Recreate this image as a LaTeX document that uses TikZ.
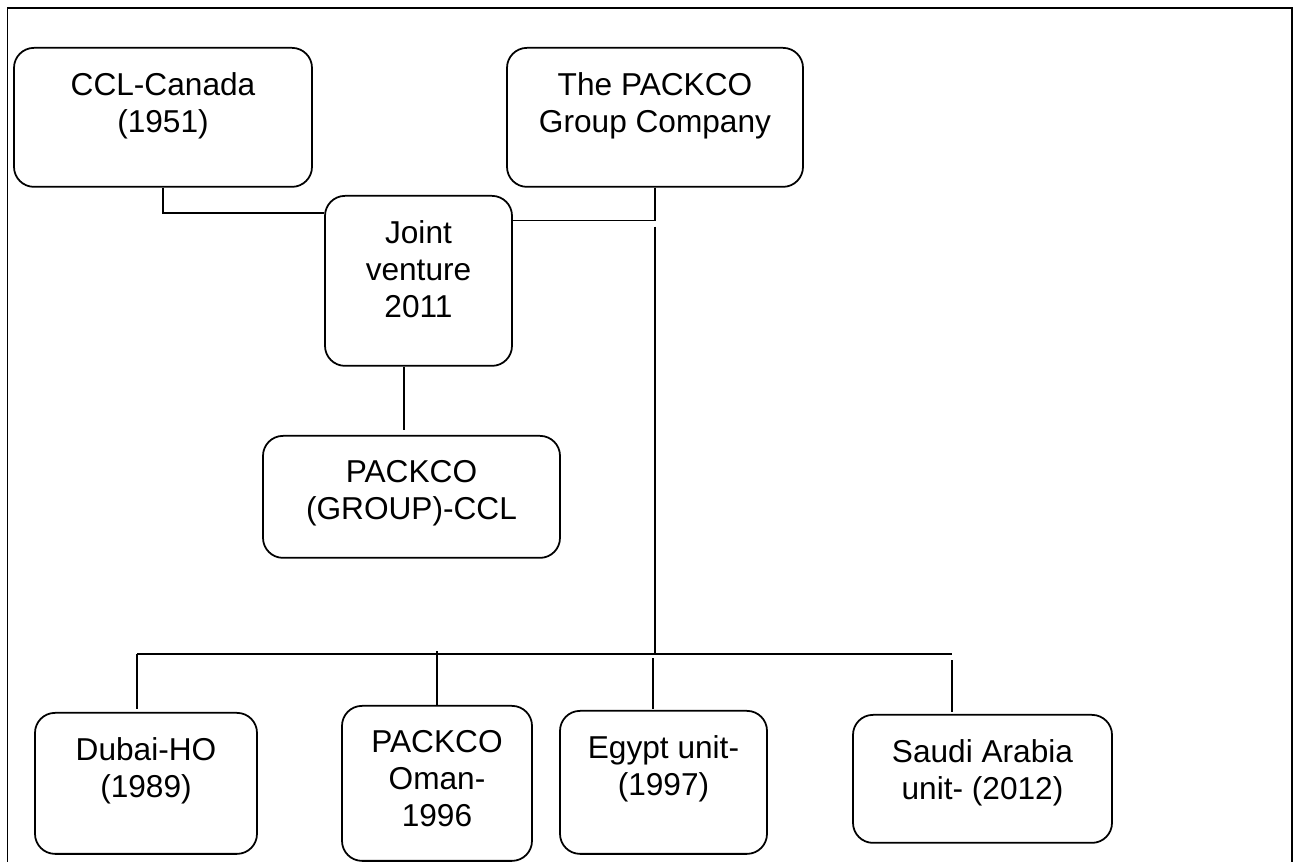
\documentclass[tikz,border=0pt]{standalone}
\usepackage{fontspec}
\setmainfont{Liberation Sans}
\usetikzlibrary{calc}

% text block of a unit box: width, height, lines
\newcommand{\boxtext}[3]{\parbox[c][#2][t]{#1}{\centering\vspace*{0.5cm}#3}}

\tikzset{
    unit/.style={draw, line width=1pt, rounded corners=0.4cm, inner sep=0pt,
        anchor=north, font=\fontsize{18}{21}\selectfont},
    link/.style={line width=0.8pt},
    bus/.style={line width=1.3pt}
}

\begin{document}
\begin{tikzpicture}

\useasboundingbox (0,0) rectangle (26,17.24);
% Outer frame (open at the bottom)
\draw[line width=1.1pt] (0.15,0) -- (0.15,17.08) -- (25.84,17.08) -- (25.84,0);

% Parent companies
\node (ccl) at (3.26,16.30) [unit] {\boxtext{5.96cm}{2.78cm}{CCL-Canada\\(1951)}};
\node (pk) at (13.10,16.30) [unit] {\boxtext{5.92cm}{2.78cm}{The PACKCO\\Group Company}};

% Joint venture
\node (jv) at (8.37,13.34) [unit] {\boxtext{3.74cm}{3.40cm}{Joint\\venture\\2011}};
\node (pg) at (8.23,8.54) [unit] {\boxtext{5.94cm}{2.44cm}{PACKCO\\(GROUP)-CCL}};

\draw[link] (ccl.south) |- ([yshift=-0.36cm]jv.north west);
\draw[link] (pk.south) |- ([yshift=-0.51cm]jv.north east);
\draw[link] ([xshift=-0.29cm]jv.south) -- ([xshift=-0.15cm,yshift=0.1cm]pg.north);

% Units
\node (dubai) at (2.92,3.00) [unit] {\boxtext{4.44cm}{2.82cm}{Dubai-HO\\(1989)}};
\node (oman) at (8.74,3.14) [unit] {\boxtext{3.80cm}{3.10cm}{PACKCO\\Oman-\\1996}};
\node (egypt) at (13.27,3.04) [unit] {\boxtext{4.14cm}{2.86cm}{Egypt unit-\\(1997)}};
\node (saudi) at (19.65,2.96) [unit] {\boxtext{5.18cm}{2.56cm}{Saudi Arabia\\unit- (2012)}};

% Trunk and bus
\coordinate (bar) at (13.10,4.16);
\draw[link] ($(pk.south)+(0,-0.78)$) -- (pk.south |- bar);
\draw[bus] ($(dubai.north |- bar)+(-0.18,0)$) -- ($(saudi.north |- bar)+(-0.61,0)$);

\draw[link] ([xshift=-0.18cm,yshift=0.06cm]dubai.north) -- ($(dubai.north |- bar)+(-0.18,0)$);
\draw[link] (oman.north) -- ($(oman.north |- bar)+(0,0.06)$);
\draw[link] ([xshift=-0.21cm,yshift=0.02cm]egypt.north) -- ($(egypt.north |- bar)+(-0.21,-0.08)$);
\draw[link] ([xshift=-0.61cm,yshift=0.04cm]saudi.north) -- ($(saudi.north |- bar)+(-0.61,-0.12)$);

\end{tikzpicture}
\end{document}
